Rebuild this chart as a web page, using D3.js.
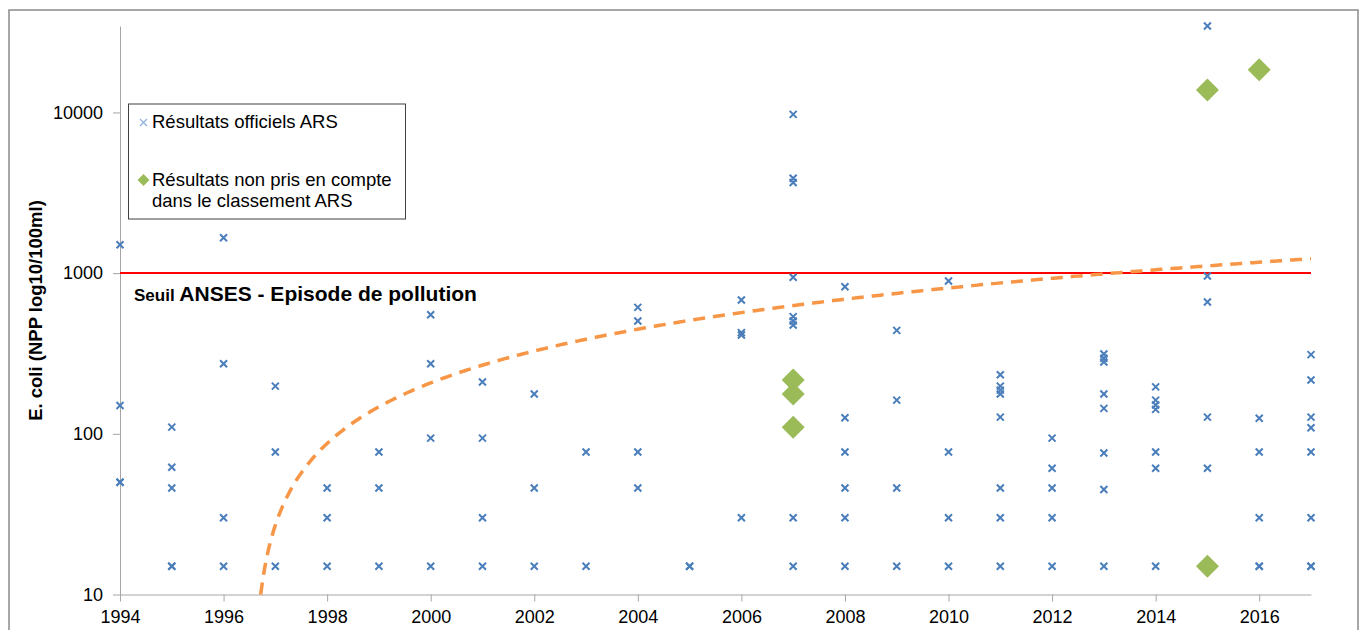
<!DOCTYPE html>
<html>
<head>
<meta charset="utf-8">
<script src="https://cdn.jsdelivr.net/npm/d3@7"></script>
<style>
  body { margin: 0; background: #fff; }
  svg { display: block; font-family: "Liberation Sans", Arial, sans-serif; }
</style>
</head>
<body>
<div class="layout"></div>
<script>

// years on the x axis, one list of ARS results per year
const years = [1994, 1995, 1996, 1997, 1998, 1999, 2000, 2001, 2002, 2003, 2004, 2005,
  2006, 2007, 2008, 2009, 2010, 2011, 2012, 2013, 2014, 2015, 2016, 2017];

const arsValues = [
  [1500, 150, 50, 50],
  [110, 62, 46, 15, 15],
  [1660, 273, 30, 15],
  [198, 77, 15],
  [46, 30, 15],
  [77, 46, 15],
  [551, 273, 94, 15],
  [210, 94, 30, 15],
  [177, 46, 15],
  [77, 15],
  [612, 503, 77, 46],
  [15, 15],
  [680, 426, 412, 30],
  [9720, 3890, 3660, 942, 536, 503, 475, 30, 15],
  [822, 126, 77, 46, 30, 15],
  [440, 162, 46, 15],
  [893, 77, 30, 15],
  [233, 198, 187, 177, 127, 46, 30, 15],
  [94, 61, 46, 30, 15],
  [314, 295, 280, 177, 144, 76, 45, 15],
  [196, 162, 151, 142, 77, 61, 15],
  [34500, 960, 661, 127, 61],
  [125, 77, 30, 15, 15],
  [311, 216, 127, 109, 77, 30, 15, 15]
];

// results not taken into account by ARS
const extraYears = [2007, 2007, 2007, 2015, 2015, 2016];
const extraValues = [216, 177, 110, 13800, 15, 18450];

// linear trend (value = slope * (year - zeroYear))
const trendSlope = 60.1;
const trendZeroYear = 1996.55;

const yTicks = [10, 100, 1000, 10000];
const xTicks = [1994, 1996, 1998, 2000, 2002, 2004, 2006, 2008, 2010, 2012, 2014, 2016];
const threshold = 1000;

const legendLabels = [["Résultats officiels ARS"],
  ["Résultats non pris en compte", "dans le classement ARS"]];

function makeChart() {
  var width = 1361
  var height = 630

  var svg = d3.select("div.layout")
    .append("svg")
      .attr("width", width)
      .attr("height", height);

  // outer frame
  svg.append("rect")
    .attr("x", 9)
    .attr("y", 10)
    .attr("width", 1349)
    .attr("height", 640)
    .attr("fill", "none")
    .attr("stroke", "#8a8a8a")
    .attr("stroke-width", 1.5);

  const x = d3.scaleLinear()
    .domain([1994, 2017])
    .range([120, 1311]);

  const y = d3.scaleLog()
    .domain([10, 34500])
    .range([594.5, 26]);

  // y axis
  var yAxis = svg.append("g")
    .attr("class", "yAxis")
    .attr("transform", "translate(120, 0)")
    .call(d3.axisLeft(y)
      .tickValues(yTicks)
      .tickFormat(d3.format("d"))
      .tickSize(7)
      .tickSizeOuter(0)
      .tickPadding(10));

  // x axis
  var xAxis = svg.append("g")
    .attr("class", "xAxis")
    .attr("transform", "translate(0, " + y(10) + ")")
    .call(d3.axisBottom(x)
      .tickValues(xTicks)
      .tickFormat(d3.format("d"))
      .tickSize(7)
      .tickSizeOuter(0)
      .tickPadding(9));

  [yAxis, xAxis].forEach(function (g) {
    g.selectAll("path, line").attr("stroke", "#a6a6a6");
    g.selectAll("text")
      .attr("fill", "#000")
      .style("font-size", "18px")
      .style("font-family", "'Liberation Sans', Arial, sans-serif");
  });

  // y axis title
  svg.append("text")
    .attr("transform", "translate(42, 310.5) rotate(-90)")
    .attr("text-anchor", "middle")
    .style("font-size", "18.5px")
    .style("font-weight", "bold")
    .text("E. coli (NPP log10/100ml)");

  // threshold line
  svg.append("line")
    .attr("x1", x(1994))
    .attr("x2", x(2017))
    .attr("y1", y(threshold))
    .attr("y2", y(threshold))
    .attr("stroke", "#ff0000")
    .attr("stroke-width", 2);

  var note = svg.append("text")
    .attr("x", 134)
    .attr("y", 301)
    .style("font-weight", "bold");
  note.append("tspan").style("font-size", "17px").text("Seuil ");
  note.append("tspan").style("font-size", "21px").text("ANSES - Episode de pollution");

  // trend line, sampled along the years
  var trendYears = d3.range(0, 401).map(function (i) {
    return trendZeroYear + 10 / trendSlope + i * (2017 - trendZeroYear - 10 / trendSlope) / 400;
  });
  const trend = d3.line()
    .x(function (d) { return x(d) })
    .y(function (d) { return y(trendSlope * (d - trendZeroYear)) });

  svg.append("path")
    .datum(trendYears)
    .attr("d", trend)
    .attr("fill", "none")
    .attr("stroke", "#f79646")
    .attr("stroke-width", 3.5)
    .attr("stroke-dasharray", "12,8");

  // ARS points
  var arsPoints = [];
  years.forEach(function (yr, i) {
    arsValues[i].forEach(function (v) {
      arsPoints.push([yr, v]);
    });
  });

  svg.append("g")
    .selectAll("path")
    .data(arsPoints)
    .enter()
    .append("path")
    .attr("transform", function (d) {
      return "translate(" + x(d[0]) + "," + y(d[1]) + ")"
    })
    .attr("d", "M-3.5,-3.5L3.5,3.5M-3.5,3.5L3.5,-3.5")
    .attr("stroke", "#4a7ebb")
    .attr("stroke-width", 2)
    .attr("fill", "none");

  // extra points
  svg.append("g")
    .selectAll("path")
    .data(extraYears)
    .enter()
    .append("path")
    .attr("transform", function (d, i) {
      return "translate(" + x(d) + "," + y(extraValues[i]) + ")"
    })
    .attr("d", "M0,-11.5L11.5,0L0,11.5L-11.5,0Z")
    .attr("fill", "#9bbb59");

  makeLegend(svg);
};

// makes the legend box
function makeLegend(svg) {
  var legend = svg.append("g")
    .attr("class", "legend");

  legend.append("rect")
    .attr("x", 128.5)
    .attr("y", 104)
    .attr("width", 277)
    .attr("height", 115)
    .attr("fill", "#fff")
    .attr("stroke", "#404040")
    .attr("stroke-width", 1);

  legend.append("path")
    .attr("transform", "translate(143.5, 122.5)")
    .attr("d", "M-3.5,-3.5L3.5,3.5M-3.5,3.5L3.5,-3.5")
    .attr("stroke", "#8fb0dc")
    .attr("stroke-width", 1.2);

  legend.append("path")
    .attr("transform", "translate(143.5, 180)")
    .attr("d", "M0,-6L6,0L0,6L-6,0Z")
    .attr("fill", "#9bbb59");

  var baselines = [[128], [186, 207]];
  legendLabels.forEach(function (lines, i) {
    lines.forEach(function (line, j) {
      legend.append("text")
        .attr("x", 152)
        .attr("y", baselines[i][j])
        .style("font-size", "18.5px")
        .text(line);
    });
  });
};

makeChart()
</script>
</body>
</html>
